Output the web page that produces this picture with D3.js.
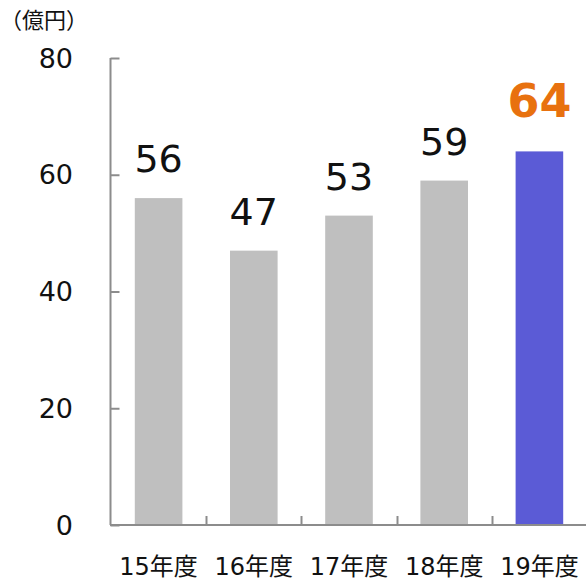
<!DOCTYPE html>
<html>
<head>
<meta charset="utf-8">
<script src="https://cdn.jsdelivr.net/npm/d3@7"></script>
<style>
  html, body { margin: 0; padding: 0; background: #fff; }
  svg { display: block; font-family: "DejaVu Sans", "Noto Sans CJK JP", sans-serif; }
</style>
</head>
<body>
<svg id="chart" width="586" height="580"></svg>
<script>
// Fiscal-year results (億円)
const categories = ["15年度", "16年度", "17年度", "18年度", "19年度"];
const values = [56, 47, 53, 59, 64];
const yTicks = [0, 20, 40, 60, 80];
const unitLabel = "（億円）";
const highlightIndex = 4;

const svg = d3.select("#chart");
const axisColor = "#8c8c8c";

const x = d3.scaleBand()
  .domain(categories)
  .range([111, 587])
  .paddingInner(0.5)
  .paddingOuter(0.25);

const y = d3.scaleLinear()
  .domain([0, 80])
  .range([525, 58]);

// unit caption
svg.append("text")
  .attr("x", 0)
  .attr("y", 28)
  .attr("font-size", 22)
  .attr("fill", "#111")
  .text(unitLabel);

// bars
svg.selectAll("rect.bar")
  .data(values)
  .join("rect")
  .attr("class", "bar")
  .attr("x", (d, i) => x(categories[i]))
  .attr("width", x.bandwidth())
  .attr("y", d => y(d))
  .attr("height", d => y(0) - y(d))
  .attr("fill", (d, i) => i === highlightIndex ? "#5B5BD6" : "#BFBFBF");

// value labels
svg.selectAll("text.value")
  .data(values)
  .join("text")
  .attr("class", "value")
  .attr("x", (d, i) => x(categories[i]) + x.bandwidth() / 2)
  .attr("y", (d, i) => y(d) - (i === highlightIndex ? 34 : 26))
  .attr("text-anchor", "middle")
  .attr("font-size", (d, i) => i === highlightIndex ? 46 : 38)
  .attr("font-weight", (d, i) => i === highlightIndex ? "bold" : "normal")
  .attr("fill", (d, i) => i === highlightIndex ? "#E8710F" : "#111")
  .text(d => d);

// y axis: ticks point into the plot
const yAxis = d3.axisRight(y)
  .tickValues(yTicks)
  .tickSize(9)
  .tickFormat("");
const gy = svg.append("g")
  .attr("transform", "translate(110.5,0)")
  .call(yAxis);
gy.select(".domain").attr("stroke", axisColor).attr("stroke-width", 2)
  .attr("d", `M0,${y(80)}V${y(0)}`);
gy.selectAll(".tick line").attr("stroke", axisColor).attr("stroke-width", 2);

// y tick labels
svg.selectAll("text.ytick")
  .data(yTicks)
  .join("text")
  .attr("class", "ytick")
  .attr("x", 73)
  .attr("y", d => y(d))
  .attr("dy", "0.36em")
  .attr("text-anchor", "end")
  .attr("font-size", 27)
  .attr("fill", "#111")
  .text(d => d);

// x axis: baseline with separators between categories
const gx = svg.append("g");
gx.append("line")
  .attr("x1", 110).attr("x2", 587)
  .attr("y1", y(0)).attr("y2", y(0))
  .attr("stroke", axisColor).attr("stroke-width", 2);
const gap = x.step() - x.bandwidth();
gx.selectAll("line.sep")
  .data(categories.slice(1))
  .join("line")
  .attr("class", "sep")
  .attr("x1", c => Math.round(x(c) - gap / 2) + 0.5)
  .attr("x2", c => Math.round(x(c) - gap / 2) + 0.5)
  .attr("y1", y(0))
  .attr("y2", y(0) - 9)
  .attr("stroke", axisColor).attr("stroke-width", 2);

// category labels
svg.selectAll("text.cat")
  .data(categories)
  .join("text")
  .attr("class", "cat")
  .attr("x", c => x(c) + x.bandwidth() / 2)
  .attr("y", 575)
  .attr("text-anchor", "middle")
  .attr("font-size", 24)
  .attr("fill", "#111")
  .text(c => c);
</script>
</body>
</html>
